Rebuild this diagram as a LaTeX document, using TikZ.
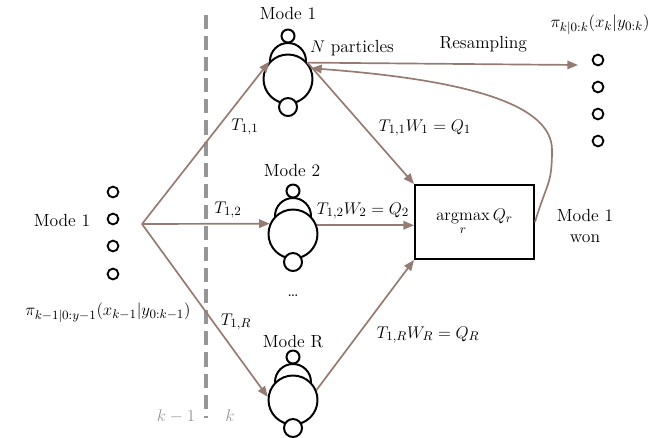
\documentclass[tikz,border=0pt]{standalone}
\usepackage{amsmath}
\definecolor{arrbrown}{RGB}{150,123,114}
\definecolor{dashgray}{RGB}{150,150,150}
\usetikzlibrary{arrows.meta,positioning,calc}
\newcommand{\mathsz}{\fontsize{13}{15}\selectfont}

\begin{document}
\begin{tikzpicture}[x=0.025cm,y=-0.025cm,font=\fontsize{12.5}{15}\selectfont,
  arr/.style={-{Triangle[length=7.5pt,width=6pt]},line width=1.2pt,arrbrown},
  ring/.style={draw,circle,line width=1.4pt,fill=white,inner sep=0pt},
  big/.style={ring,minimum size=1.225cm},
  head/.style={ring,minimum size=0.9cm},
  ptop/.style={ring,minimum size=0.325cm},
  pbot/.style={ring,minimum size=0.45cm},
  dot/.style={ring,line width=1.3pt,minimum size=0.27cm}]
  \useasboundingbox (0,0) rectangle (664,437);
  \foreach \n/\x/\y in {m1/288/79,m2/293/234,mR/293/400}{
    \node[head] (\n-h) at (\x,\y-18) {};
    \node[big] (\n) at (\x,\y) {};
    \node[ptop] (\n-t) at (\x,\y-43) {};
    \node[pbot] (\n-b) at (\x,\y+28) {};
  }
  \node (l1) at (288,13) {Mode 1};
  \node (l2) at (292,170) {Mode 2};
  \node (lR) at (293,342) {Mode R};
  \node (np) at (352,48) {$N$ particles};
  \node (dd) at (293,296) {\dots};

  \foreach \i/\y in {1/192,2/219,3/246,4/274} \node[dot] (a\i) at (113,\y) {};
  \node (lm) at (62,220) {Mode 1};
  \node (pl) at (108,313) {\mathsz$\pi_{k-1|0:y-1}(x_{k-1}|y_{0:k-1})$};
  \foreach \i/\y in {1/60,2/87,3/114,4/141} \node[dot] (b\i) at (598,\y) {};
  \node (pr) at (600,25) {\mathsz$\pi_{k|0:k}(x_k|y_{0:k})$};

  \draw[dashgray,line width=2.2pt,dash pattern=on 10pt off 5pt] (206,15) -- (206,418);
  \node[dashgray] (km) at (176,416) {\mathsz$k-1$};
  \node[dashgray] (kk) at (230,416) {\mathsz$k$};

  \node[draw,line width=1.4pt,minimum width=2.975cm,minimum height=1.85cm] (box) at (474.5,222) {$\displaystyle\operatorname*{argmax}_r Q_r$};
  \node[align=center] (won) at (585,226) {Mode 1\\won};

  \coordinate (src) at (142,224);
  \coordinate (rs) at (578,65);
  \draw[arr] (src) -- (m1.137);
  \draw[arr] (src) -- (m2.156);
  \draw[arr] (src) -- (mR.173);
  \draw[arr] (m1.40) -- (box.north west);
  \draw[arr] (m2.20) -- (m2.20 -| box.west);
  \draw[arr] (mR.23) -- (box.south west);
  \draw[arr] (m1.40) -- node[pos=.65,above=5pt,text=black] (rsl) {Resampling} (rs);
  \draw[arr] (box.east) .. controls +(12,-40) and (552,185) .. (552,150) .. controls (552,105) and (470,80) .. (m1.25);

  \node (t11) at (245,127) {\mathsz$T_{1,1}$};
  \node (t12) at (228,210) {\mathsz$T_{1,2}$};
  \node (t1R) at (236,322) {\mathsz$T_{1,R}$};
  \node (q1) at (425,128) {\mathsz$T_{1,1}W_1=Q_1$};
  \node (q2) at (363,211) {\mathsz$T_{1,2}W_2=Q_2$};
  \node (qR) at (428,335) {\mathsz$T_{1,R}W_R=Q_R$};
\end{tikzpicture}
\end{document}
